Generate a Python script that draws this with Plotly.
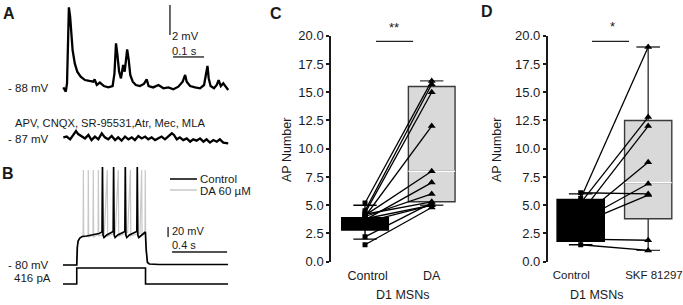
import plotly.graph_objects as go

W, H = 683, 305

# ---------------- Panel A data (time s, mV relative to resting level) -------------
a_top_t = [0.001, 0.009, 0.013, 0.016, 0.019, 0.023, 0.026, 0.031, 0.038, 0.046, 0.057, 0.071,
           0.085, 0.098, 0.102, 0.109, 0.119, 0.132, 0.146, 0.160, 0.166, 0.171, 0.175, 0.181,
           0.187, 0.194, 0.199, 0.203, 0.207, 0.212, 0.217, 0.225, 0.235, 0.248, 0.261, 0.270,
           0.276, 0.291, 0.308, 0.324, 0.340, 0.356, 0.372, 0.386, 0.394, 0.399, 0.410, 0.426,
           0.442, 0.455, 0.461, 0.466, 0.470, 0.476, 0.487, 0.496, 0.502, 0.509, 0.517, 0.526, 0.533]
a_top_v = [0.04, -0.24, 0.31, 4.53, 5.38, 4.76, 3.64, 2.53, 1.64, 1.09, 0.76, 0.53,
           0.47, 0.42, 0.58, 0.20, 0.36, 0.13, 0.04, 0.13, 0.98, 2.98, 2.31, 1.09,
           0.64, 1.53, 1.09, 1.76, 2.58, 1.87, 0.87, 0.42, 0.20, 0.13, 0.27, 0.58,
           0.13, 0.04, 0.20, -0.02, 0.04, -0.09, 0.09, 0.42, 0.87, 0.42, 0.13, 0.04,
           -0.02, 0.20, 0.87, 1.47, 0.64, 0.13, -0.02, 0.20, 0.53, 0.13, 0.31, 0.04, -0.13]

a_bot_t = [0.001, 0.012, 0.023, 0.033, 0.042, 0.049, 0.060, 0.071, 0.082, 0.092, 0.103, 0.114,
           0.125, 0.135, 0.146, 0.157, 0.168, 0.178, 0.189, 0.200, 0.211, 0.222, 0.232, 0.243,
           0.254, 0.265, 0.275, 0.286, 0.297, 0.308, 0.318, 0.329, 0.340, 0.351, 0.358, 0.367,
           0.377, 0.388, 0.399, 0.410, 0.420, 0.431, 0.442, 0.453, 0.463, 0.474, 0.485, 0.496,
           0.506, 0.517, 0.533]
a_bot_v = [0.11, 0.16, -0.02, 0.27, 0.53, 0.33, 0.20, 0.04, 0.27, -0.07, 0.16, -0.02,
           0.38, 0.11, -0.02, 0.20, -0.07, 0.11, -0.11, 0.16, -0.02, 0.11, -0.07, 0.20,
           0.04, 0.16, -0.02, 0.11, -0.07, 0.04, 0.16, -0.02, 0.16, 0.38, 0.27, -0.02,
           0.11, -0.07, 0.04, -0.18, -0.02, -0.11, 0.04, -0.18, -0.02, -0.24, -0.07, -0.18,
           -0.02, -0.24, -0.29]

# ---------------- Panel B data (time s, membrane potential mV, current pA) ---------
b_ctrl_t = [0.0, 0.100, 0.104, 0.110, 0.122, 0.140, 0.172, 0.221, 0.262, 0.284,
            0.287, 0.291, 0.298, 0.318, 0.348, 0.365,
            0.368, 0.372, 0.379, 0.398, 0.428, 0.450,
            0.453, 0.457, 0.464, 0.483, 0.513, 0.537,
            0.540, 0.544, 0.551, 0.570, 0.592, 0.599, 0.605, 0.614, 0.628, 0.700, 1.200]
b_ctrl_v = [-80, -80, -45, -32, -26, -23, -22, -20, -17, -14,
            116, -20, -25, -20, -16, -13,
            116, -20, -25, -20, -16, -13,
            116, -20, -25, -20, -16, -13,
            116, -20, -25, -20, -15, -14, -50, -75, -78, -79, -79]

b_da_t = [0.0, 0.100, 0.104, 0.110, 0.122, 0.140, 0.146, 0.148, 0.151,
          0.182, 0.184, 0.187, 0.218, 0.220, 0.223, 0.255, 0.257, 0.260,
          0.300, 0.322, 0.325, 0.380, 0.402, 0.405, 0.470, 0.490, 0.493,
          0.560, 0.572, 0.575, 0.596, 0.598, 0.601, 0.610, 0.625, 0.700, 1.200]
b_da_v = [-80, -80, -45, -32, -26, -23, -21, 110, -24,
          -22, 110, -24, -21, 110, -24, -19, 110, -22,
          -18, 110, -22, -16, 110, -22, -15, 110, -22,
          -16, 110, -22, -17, 110, -30, -70, -78, -79, -79]

b_inj_t = [0.0, 0.100, 0.100, 0.600, 0.600, 1.200]
b_inj_pa = [0, 0, 416, 416, 0, 0]

# ---------------- Panel C data (AP number) -----------------------------------------
c_categories = ["Control", "DA"]
c_ctrl = [5.2, 4.5, 4.3, 4.0, 4.1, 3.7, 4.0, 4.2, 3.8, 3.5, 2.2, 1.5]
c_da = [16.0, 15.7, 15.0, 12.0, 8.0, 7.0, 6.0, 5.3, 5.0, 5.0, 5.2, 4.8]
c_box_ctrl = dict(q1=2.8, median=3.0, q3=3.9, lo=2.0, hi=5.0)
c_box_da = dict(q1=5.3, median=8.0, q3=15.5, lo=5.0, hi=16.0)

# ---------------- Panel D data (AP number) -----------------------------------------
d_categories = ["Control", "SKF 81297"]
d_ctrl = [5.6, 5.2, 4.3, 3.9, 3.6, 3.4, 6.1, 2.0, 1.5]
d_skf = [19.0, 12.8, 12.0, 8.8, 6.9, 5.9, 6.0, 1.9, 1.0]
d_box_ctrl = dict(q1=1.8, median=4.0, q3=5.5, lo=1.5, hi=6.0)
d_box_skf = dict(q1=3.8, median=7.0, q3=12.5, lo=1.0, hi=19.0)

y_ticks = [0, 2.5, 5, 7.5, 10, 12.5, 15, 17.5, 20]

FONT = "Liberation Sans, Arial, sans-serif"
INK = "#1a1a1a"


def xdom(p0, p1):
    return [p0 / W, p1 / W]


def ydom(top, bottom):
    return [1 - bottom / H, 1 - top / H]


fig = go.Figure()

# ---- Panel A traces
fig.add_trace(go.Scatter(x=a_top_t, y=a_top_v, mode="lines", line=dict(color="black", width=2.3),
                         xaxis="x", yaxis="y"))
A_BOT_OFFSET = -3.4
fig.add_trace(go.Scatter(x=a_bot_t, y=[v + A_BOT_OFFSET for v in a_bot_v], mode="lines",
                         line=dict(color="black", width=2.3), xaxis="x", yaxis="y"))
# scale bars A: 0.1 s, 2 mV
fig.add_trace(go.Scatter(x=[0.345, 0.345], y=[3.53, 3.53 + 2.0], mode="lines",
                         line=dict(color=INK, width=1.3), xaxis="x", yaxis="y"))
fig.add_trace(go.Scatter(x=[0.355, 0.355 + 0.1], y=[2.07, 2.07], mode="lines",
                         line=dict(color=INK, width=1.3), xaxis="x", yaxis="y"))

# ---- Panel B traces
fig.add_trace(go.Scatter(x=b_da_t, y=b_da_v, mode="lines", line=dict(color="#c8c8c8", width=1.2),
                         xaxis="x2", yaxis="y2"))
fig.add_trace(go.Scatter(x=b_ctrl_t, y=b_ctrl_v, mode="lines", line=dict(color="black", width=1.7),
                         xaxis="x2", yaxis="y2"))
fig.add_trace(go.Scatter(x=b_inj_t, y=b_inj_pa, mode="lines", line=dict(color="black", width=1.6),
                         xaxis="x2", yaxis="y3"))
# scale bars B: 0.4 s, 20 mV
fig.add_trace(go.Scatter(x=[0.764, 0.764], y=[-24, -24 + 20], mode="lines",
                         line=dict(color=INK, width=1.3), xaxis="x2", yaxis="y2"))
fig.add_trace(go.Scatter(x=[0.793, 0.793 + 0.4], y=[-54, -54], mode="lines",
                         line=dict(color=INK, width=1.3), xaxis="x2", yaxis="y2"))


def add_box_panel(xa, ya, ctrl, treat, box_c, box_t, sig_x):
    for xpos, b, fill, lc in [(1, box_c, "black", "black"), (2, box_t, "#d9d9d9", "#3a3a3a")]:
        fig.add_trace(go.Box(x=[xpos], q1=[b["q1"]], median=[b["median"]], q3=[b["q3"]],
                             lowerfence=[b["lo"]], upperfence=[b["hi"]], width=0.7, whiskerwidth=0.5,
                             fillcolor=fill, line=dict(color=lc, width=1.4), boxpoints=False,
                             orientation="v", xaxis=xa, yaxis=ya, hoverinfo="skip"))
    fig.add_trace(go.Scatter(x=[1.65, 2.35], y=[box_t["median"]] * 2, mode="lines",
                             line=dict(color="white", width=1.4), xaxis=xa, yaxis=ya))
    xs, ys = [], []
    for c, t in zip(ctrl, treat):
        xs += [1, 2, None]
        ys += [c, t, None]
    fig.add_trace(go.Scatter(x=xs, y=ys, mode="lines", line=dict(color="black", width=1.3),
                             xaxis=xa, yaxis=ya))
    fig.add_trace(go.Scatter(x=[1] * len(ctrl), y=ctrl, mode="markers",
                             marker=dict(symbol="square", size=5, color="black"), xaxis=xa, yaxis=ya))
    fig.add_trace(go.Scatter(x=[2] * len(treat), y=treat, mode="markers",
                             marker=dict(symbol="triangle-up", size=7, color="black"), xaxis=xa, yaxis=ya))
    fig.add_trace(go.Scatter(x=sig_x, y=[19.5, 19.5], mode="lines", line=dict(color="#222", width=1.4),
                             xaxis=xa, yaxis=ya, cliponaxis=False))


add_box_panel("x4", "y4", c_ctrl, c_da, c_box_ctrl, c_box_da, [1.165, 1.72])
add_box_panel("x5", "y5", d_ctrl, d_skf, d_box_ctrl, d_box_skf, [1.167, 1.716])

hidden = dict(visible=False, showgrid=False, zeroline=False)
yax_common = dict(range=[0, 20], tickvals=y_ticks, tickformat=".1f", showgrid=False, zeroline=False,
                  showline=True, linecolor=INK, linewidth=1.5, ticks="outside", ticklen=3,
                  tickwidth=1.5, tickcolor=INK, tickfont=dict(size=13, color=INK, family=FONT))
xax_common = dict(showgrid=False, zeroline=False, showline=False, ticks="",
                  ticklabelstandoff=5, ticklabeloverflow="allow")

fig.update_layout(
    width=W, height=H, margin=dict(l=0, r=0, t=0, b=0, autoexpand=False),
    paper_bgcolor="white", plot_bgcolor="rgba(0,0,0,0)", showlegend=False,
    font=dict(family=FONT, color=INK, size=12),
    boxmode="overlay",
    xaxis=dict(domain=xdom(0, 270), range=[-0.2032, 0.6677], anchor="y", **hidden),
    yaxis=dict(domain=ydom(0, 150), range=[-4.133, 5.867], anchor="x", **hidden),
    xaxis2=dict(domain=xdom(0, 270), range=[-0.458, 1.505], anchor="y2", **hidden),
    yaxis2=dict(domain=ydom(150, 300), range=[-150, 150], anchor="x2", **hidden),
    yaxis3=dict(overlaying="y2", range=[-416, 3484], anchor="x2", **hidden),
    xaxis4=dict(domain=xdom(331, 475), range=[0.49, 2.649], anchor="y4",
                tickvals=[1.04, 2.0], ticktext=c_categories,
                tickfont=dict(size=12.5, color=INK, family=FONT), **xax_common),
    yaxis4=dict(domain=ydom(35.7, 261.7), anchor="x4", **yax_common),
    xaxis5=dict(domain=xdom(547.7, 683), range=[0.511, 2.516], anchor="y5",
                tickvals=[0.861, 2.085], ticktext=d_categories,
                tickfont=dict(size=11.5, color=INK, family=FONT), **xax_common),
    yaxis5=dict(domain=ydom(35.7, 261.7), anchor="x5", **yax_common),
)


def ann(text, x, y, size=12, xanchor="center", bold=False, angle=0):
    return dict(text=f"<b>{text}</b>" if bold else text, x=x / W, y=1 - y / H, xref="paper",
                yref="paper", showarrow=False, xanchor=xanchor, yanchor="middle", textangle=angle,
                borderpad=0, font=dict(size=size, family=FONT, color=INK))


anns = [
    ann("A", 9, 13, 16, bold=True), ann("B", 8, 173, 16, bold=True),
    ann("C", 276, 13, 16, bold=True), ann("D", 487, 12, 16, bold=True),
    ann("- 88 mV", 50, 88, 11.5, "right"), ann("- 87 mV", 50, 139, 11.5, "right"),
    ann("APV, CNQX, SR-95531,Atr, Mec, MLA", 14, 123, 11.2, "left"),
    ann("2 mV", 171, 36, 11.2, "left"), ann("0.1 s", 171, 51, 11.2, "left"),
    ann("- 80 mV", 50, 265, 11.5, "right"), ann("416 pA", 52, 278, 11.5, "right"),
    ann("Control", 199, 179, 11.5, "left"), ann("DA 60 µM", 199, 190.5, 11.5, "left"),
    ann("20 mV", 171, 231, 11, "left"), ann("0.4 s", 171, 245, 11, "left"),
    ann("**", 394, 27, 13), ann("*", 612, 26, 13),
    ann("AP Number", 287, 150, 12.5, angle=-90), ann("AP Number", 497, 150, 12.5, angle=-90),
    ann("D1 MSNs", 402.5, 295, 12.5), ann("D1 MSNs", 596, 295, 12.5),
]
fig.update_layout(annotations=anns)

# legend key lines for panel B
fig.update_layout(shapes=[
    dict(type="line", xref="paper", yref="paper", x0=170 / W, x1=197 / W, y0=1 - 179 / H, y1=1 - 179 / H,
         line=dict(color="black", width=1.5)),
    dict(type="line", xref="paper", yref="paper", x0=170 / W, x1=197 / W, y0=1 - 190 / H, y1=1 - 190 / H,
         line=dict(color="#c8c8c8", width=1.5)),
])

fig.write_html("out.html", config={"displayModeBar": False},
               post_script="document.body.style.margin='0';document.body.style.overflow='hidden';")
